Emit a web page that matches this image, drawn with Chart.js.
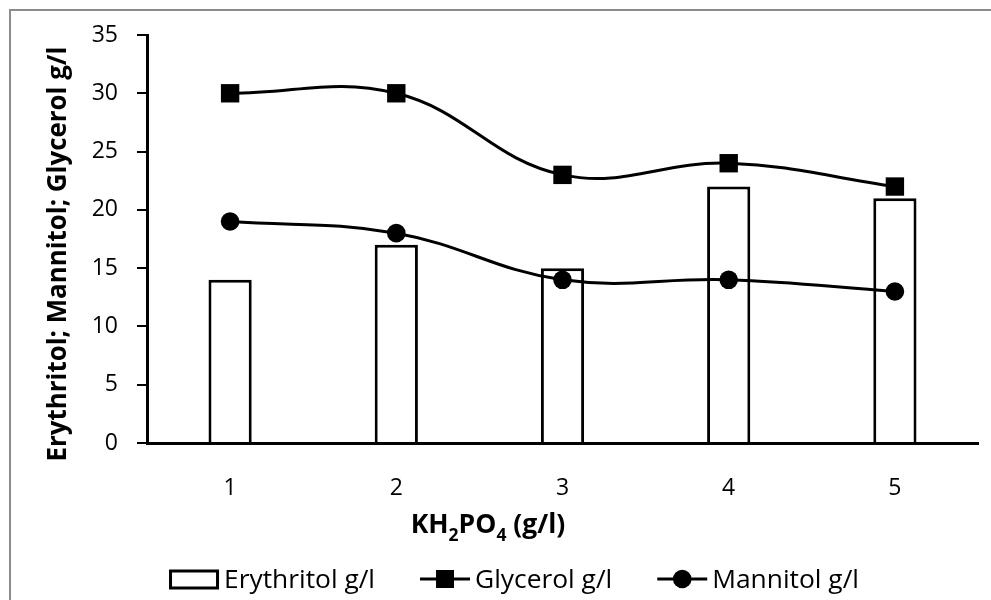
<!DOCTYPE html>
<html>
<head>
<meta charset="utf-8">
<script src="https://cdn.jsdelivr.net/npm/chart.js@4.4.1/dist/chart.umd.min.js"></script>
<style>
  html, body { margin: 0; padding: 0; background: #fff; }
  #wrap { width: 991px; height: 600px; position: relative; }
</style>
</head>
<body>
<div id="wrap"><canvas id="c" width="991" height="600"></canvas></div>
<script>
// KH2PO4 dose (g/l) and product titres (g/l)
const categories = ['1', '2', '3', '4', '5'];
const erythritol = [14, 17, 15, 22, 21];
const glycerol = [30, 30, 23, 24, 22];
const mannitol = [19, 18, 14, 14, 13];
const yMin = 0, yMax = 35, yStep = 5;

const yTitle = 'Erythritol; Mannitol; Glycerol g/l';
// [text, isSubscript]
const xTitleParts = [['KH', false], ['2', true], ['PO', false], ['4', true], [' (g/l)', false]];
const legendLabels = ['Erythritol g/l', 'Glycerol g/l', 'Mannitol g/l'];

const FONT = '"Open Sans", "Liberation Sans", sans-serif';
const INK = '#000';

// font size that makes `text` span `target` pixels
function fitSize(ctx, text, weight, target) {
  ctx.font = weight + ' 20px ' + FONT;
  return 20 * target / ctx.measureText(text).width;
}

// Outer frame, axis titles and the legend row
const decorations = {
  id: 'decorations',
  beforeDraw(chart) {
    const ctx = chart.ctx;
    ctx.save();
    ctx.fillStyle = '#fff';
    ctx.fillRect(0, 0, chart.width, chart.height);
    ctx.strokeStyle = '#8c8c8c';
    ctx.lineWidth = 2;
    ctx.strokeRect(10, 10, chart.width + 20, chart.height + 20);
    ctx.restore();
  },
  afterDraw(chart) {
    const ctx = chart.ctx;
    ctx.save();
    ctx.fillStyle = INK;

    // y title (rotated)
    const ys = Math.min(27, fitSize(ctx, yTitle, 'bold', 415));
    ctx.font = 'bold ' + ys.toFixed(2) + 'px ' + FONT;
    ctx.translate(66, 254);
    ctx.rotate(-Math.PI / 2);
    ctx.textAlign = 'center';
    ctx.textBaseline = 'alphabetic';
    ctx.fillText(yTitle, 0, 0);
    ctx.setTransform(1, 0, 0, 1, 0, 0);

    // x title with subscripts
    const xs = Math.min(27, fitSize(ctx, 'KH2PO4 (g/l)', 'bold', 165));
    const mainFont = 'bold ' + xs.toFixed(2) + 'px ' + FONT;
    const subFont = 'bold ' + (xs * 0.66).toFixed(2) + 'px ' + FONT;
    let total = 0;
    xTitleParts.forEach(([t, sub]) => { ctx.font = sub ? subFont : mainFont; total += ctx.measureText(t).width; });
    let x = 488 - total / 2;
    const base = 533;
    ctx.textAlign = 'left';
    xTitleParts.forEach(([t, sub]) => {
      ctx.font = sub ? subFont : mainFont;
      ctx.fillText(t, x, sub ? base + 8 : base);
      x += ctx.measureText(t).width;
    });

    // legend
    const ls = Math.min(28, fitSize(ctx, legendLabels[0], '', 151));
    ctx.font = ls.toFixed(2) + 'px ' + FONT;
    const symW = 50, symGap = 5, itemGap = 45;
    const widths = legendLabels.map(l => ctx.measureText(l).width);
    const legendW = widths.reduce((a, w) => a + symW + symGap + w, 0) + itemGap * (legendLabels.length - 1);
    let lx = 514 - legendW / 2;
    const cy = 579, tb = 588;
    ctx.strokeStyle = INK;
    legendLabels.forEach((label, i) => {
      ctx.lineWidth = 3;
      if (i === 0) {
        ctx.strokeRect(lx + 1.5, cy - 8, symW - 3, 17);
      } else {
        ctx.beginPath();
        ctx.moveTo(lx, cy);
        ctx.lineTo(lx + symW, cy);
        ctx.stroke();
        ctx.beginPath();
        if (i === 1) {
          ctx.rect(lx + symW / 2 - 9, cy - 9, 18, 18);
        } else {
          ctx.arc(lx + symW / 2, cy, 9.3, 0, Math.PI * 2);
        }
        ctx.fill();
      }
      ctx.fillText(label, lx + symW + symGap, tb);
      lx += symW + symGap + widths[i] + itemGap;
    });
    ctx.restore();
  }
};

new Chart(document.getElementById('c'), {
  type: 'bar',
  data: {
    labels: categories,
    datasets: [
      {
        type: 'bar',
        label: legendLabels[0],
        data: erythritol,
        backgroundColor: '#fff',
        borderColor: INK,
        borderWidth: 3,
        barPercentage: 0.26,
        categoryPercentage: 1,
        order: 3
      },
      {
        type: 'line',
        label: legendLabels[1],
        data: glycerol,
        borderColor: INK,
        borderWidth: 3,
        tension: 0.4,
        pointStyle: 'rect',
        pointRadius: 13,
        pointBackgroundColor: INK,
        pointBorderColor: INK,
        pointBorderWidth: 0,
        fill: false,
        order: 1
      },
      {
        type: 'line',
        label: legendLabels[2],
        data: mannitol,
        borderColor: INK,
        borderWidth: 3,
        tension: 0.4,
        pointStyle: 'circle',
        pointRadius: 9.3,
        pointBackgroundColor: INK,
        pointBorderColor: INK,
        pointBorderWidth: 0,
        fill: false,
        order: 2
      }
    ]
  },
  options: {
    responsive: false,
    animation: false,
    events: [],
    layout: { padding: { left: 0, right: 12, top: 35, bottom: 0 } },
    plugins: { legend: { display: false }, tooltip: { enabled: false }, title: { display: false } },
    scales: {
      x: {
        type: 'category',
        offset: true,
        grid: { display: false, drawTicks: false },
        border: { display: true, color: INK, width: 3 },
        ticks: { color: INK, font: { family: FONT, size: 23 }, padding: 32, maxRotation: 0 },
        afterFit(scale) { scale.height = 157; }
      },
      y: {
        min: yMin,
        max: yMax,
        ticks: { stepSize: yStep, color: INK, font: { family: FONT, size: 23 }, padding: 19 },
        grid: { display: true, drawOnChartArea: false, drawTicks: true, tickLength: 10, color: INK, lineWidth: 2 },
        border: { display: true, color: INK, width: 3 },
        afterFit(scale) { scale.width = 147; }
      }
    }
  },
  plugins: [decorations]
});
</script>
</body>
</html>
